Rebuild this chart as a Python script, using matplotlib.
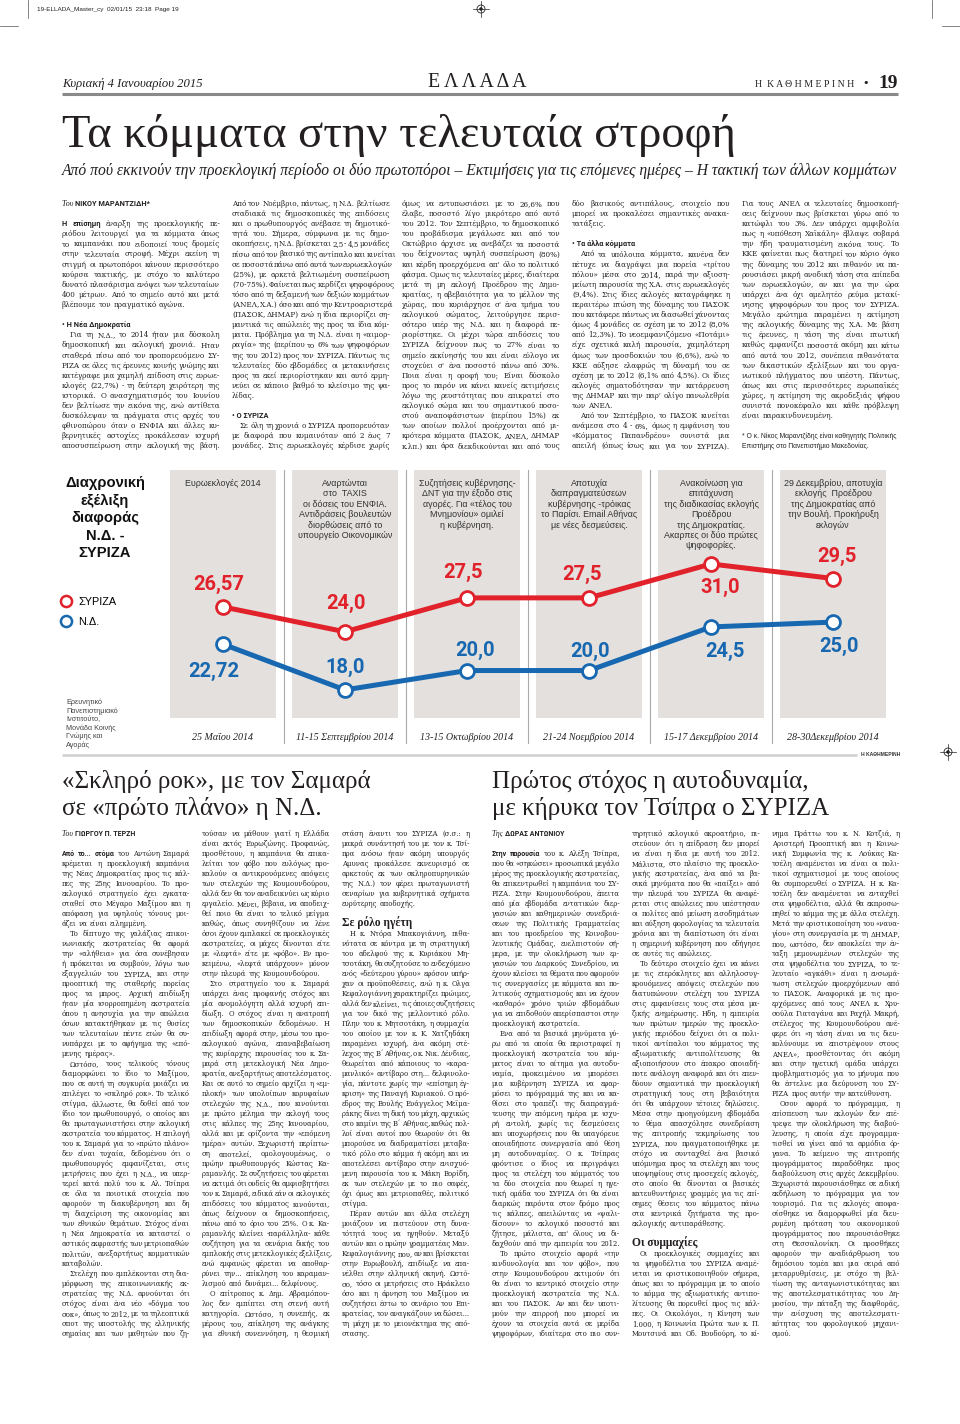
import numpy as np
import matplotlib
matplotlib.use("Agg")
import matplotlib.pyplot as plt
import matplotlib.transforms as mtrans
from matplotlib.lines import Line2D
from matplotlib.patches import Circle
from matplotlib.font_manager import FontProperties, fontManager

# ---------------- chart data ----------------
dates = ["25 Μαΐου 2014", "11-15 Σεπτεμβρίου 2014", "13-15 Οκτωβρίου 2014",
         "21-24 Νοεμβρίου 2014", "15-17 Δεκεμβρίου 2014", "28-30Δεκεμβρίου 2014"]
syriza = [26.57, 24.0, 27.5, 27.5, 31.0, 29.5]
nd = [22.72, 18.0, 20.0, 20.0, 24.5, 25.0]
events = [
    "Ευρωεκλογές 2014",
    "Αναρτώνται\nστο  TAXIS\nοι δόσεις του ΕΝΦΙΑ.\nΑντιδράσεις βουλευτών\nδιορθώσεις από το\nυπουργείο Οικονομικών",
    "Συζητήσεις κυβέρνησης-\nΔΝΤ για την έξοδο στις\nαγορές. Για «τέλος του\nΜνημονίου» ομιλεί\nη κυβέρνηση.",
    "Αποτυχία\nδιαπραγματεύσεων\nκυβέρνησης -τρόικας\nτο Παρίσι. Email Αθήνας\nμε νέες δεσμεύσεις.",
    "Ανακοίνωση για\nεπιτάχυνση\nτης διαδικασίας εκλογής\nΠροέδρου\nτης Δημοκρατίας.\nΑκαρπες οι δύο πρώτες\nψηφοφορίες.",
    "29 Δεκεμβρίου, αποτυχία\nεκλογής  Προέδρου\nτης Δημοκρατίας από\nτην Βουλή. Προκήρυξη\nεκλογών",
]
series_names = ["ΣΥΡΙΖΑ", "Ν.Δ."]
chart_title = ["Διαχρονική", "εξέλιξη", "διαφοράς", "Ν.Δ. -", "ΣΥΡΙΖΑ"]
source = "Ερευνητικό\nΠανεπιστημιακό\nΙνστιτούτο,\nΜονάδα Κοινής\nΓνώμης και\nΑγοράς"

# label offsets in pixels (dx, dy; dy down)
off_syriza = [(-4, -22), (1, -28), (-4, -25), (-7, -23), (9, 23), (4, -22)]
off_nd = [(-9, 27), (0, -22), (8, -20), (1, -19), (14, 25), (6, 24)]

# ---------------- page texts ----------------
top_cols = [
    ["@Του ΝΙΚΟΥ ΜΑΡΑΝΤΖΙΔΗ*", "",
     "**Η επίσημη** έναρξη της προεκλογικής πε-",
     "ριόδου λειτουργεί για τα κόμματα όπως",
     "το καμπανάκι που ειδοποιεί τους δρομείς",
     "στην τελευταία στροφή. Μέχρι εκείνη τη",
     "στιγμή οι πρωτοπόροι κάνουν περισσότερο",
     "κούρσα τακτικής, με στόχο το καλύτερο",
     "δυνατό πλασάρισμα ενόψει των τελευταίων",
     "400 μέτρων. Από το σημείο αυτό και μετά",
     "βλέπουμε τον πραγματικό αγώνα.", "",
     "• Η Νέα Δημοκρατία",
     ">Για τη Ν.Δ., το 2014 ήταν μια δύσκολη",
     "δημοσκοπική και εκλογική χρονιά. Ηταν",
     "σταθερά πίσω από τον προπορευόμενο ΣΥ-",
     "ΡΙΖΑ σε όλες τις έρευνες κοινής γνώμης και",
     "κατέγραφε μια χαμηλή επίδοση στις ευρωε-",
     "κλογές (22,7%) - τη δεύτερη χειρότερη της",
     "ιστορικά. Ο ανασχηματισμός του Ιουνίου",
     "δεν βελτίωσε την εικόνα της, ενώ αντίθετα",
     "δυσκόλεψαν τα πράγματα στις αρχές του",
     "φθινοπώρου όταν ο ΕΝΦΙΑ και άλλες κυ-",
     "βερνητικές αστοχίες προκάλεσαν ισχυρή",
     "αποσυσπείρωση στην εκλογική της βάση."],
    ["Από τον Νοέμβριο, πάντως, η Ν.Δ. βελτίωσε",
     "σταδιακά τις δημοσκοπικές της επιδόσεις",
     "και ο πρωθυπουργός ανέβασε τη δημοτικό-",
     "τητά του. Σήμερα, σύμφωνα με τις δημο-",
     "σκοπήσεις, η Ν.Δ. βρίσκεται 2,5 - 4,5 μονάδες",
     "πίσω από τον βασικό της αντίπαλο και κινείται",
     "σε ποσοστά πάνω από αυτά των ευρωεκλογών",
     "(25%), με αρκετά βελτιωμένη συσπείρωση",
     "(70-75%). Φαίνεται πως κερδίζει ψηφοφόρους",
     "τόσο από τη δεξαμενή των δεξιών κομμάτων",
     "(ΑΝΕΛ, Χ.Α.) όσο και από την Κεντροαριστερά",
     "(ΠΑΣΟΚ, ΔΗΜΑΡ) ενώ η ίδια περιορίζει ση-",
     "μαντικά τις απώλειές της προς τα ίδια κόμ-",
     "ματα. Πρόβλημα για τη Ν.Δ. είναι η «αιμορ-",
     "ραγία» της (περίπου το 6% των ψηφοφόρων",
     "της του 2012) προς τον ΣΥΡΙΖΑ. Πάντως τις",
     "τελευταίες δύο εβδομάδες οι μετακινήσεις",
     "προς τα εκεί περιορίστηκαν και αυτό ερμη-",
     "νεύει σε κάποιο βαθμό το κλείσιμο της ψα-",
     "λίδας.", "",
     "• Ο ΣΥΡΙΖΑ",
     ">Σε όλη τη χρονιά ο ΣΥΡΙΖΑ προπορευόταν",
     "με διαφορά που κυμαινόταν από 2 έως 7",
     "μονάδες. Στις ευρωεκλογές κέρδισε χωρίς"],
    ["όμως να εντυπωσιάσει με το 26,6% που",
     "έλαβε, ποσοστό λίγο μικρότερο από αυτό",
     "του 2012. Τον Σεπτέμβριο, το δημοσκοπικό",
     "του προβάδισμα μεγάλωσε και από τον",
     "Οκτώβριο άρχισε να ανεβάζει τα ποσοστά",
     "του δείχνοντας υψηλή συσπείρωση (80%)",
     "και κέρδη προερχόμενα απ' όλο το πολιτικό",
     "φάσμα. Ομως τις τελευταίες μέρες, ιδιαίτερα",
     "μετά τη μη εκλογή Προέδρου της Δημο-",
     "κρατίας, η αβεβαιότητα για το μέλλον της",
     "χώρας, που κυριάρχησε σ' ένα τμήμα του",
     "εκλογικού σώματος, λειτούργησε περισ-",
     "σότερο υπέρ της Ν.Δ. και η διαφορά πε-",
     "ριορίστηκε. Οι μέχρι τώρα επιδόσεις του",
     "ΣΥΡΙΖΑ δείχνουν πως το 27% είναι το",
     "σημείο εκκίνησής του και είναι εύλογο να",
     "στοχεύει σ' ένα ποσοστό πάνω από 30%.",
     "Ποια είναι η οροφή του; Είναι δύσκολο",
     "προς το παρόν να κάνει κανείς εκτιμήσεις",
     "λόγω της ρευστότητας που επικρατεί στο",
     "εκλογικό σώμα και του σημαντικού ποσο-",
     "στού αναποφάσιστων (περίπου 15%) εκ",
     "των οποίων πολλοί προέρχονται από μι-",
     "κρότερα κόμματα (ΠΑΣΟΚ, ΑΝΕΛ, ΔΗΜΑΡ",
     "κ.λπ.) και άρα διεκδικούνται και από τους"],
    ["δύο βασικούς αντιπάλους, στοιχείο που",
     "μπορεί να προκαλέσει σημαντικές ανακα-",
     "τατάξεις.", "",
     "• Τα άλλα κόμματα",
     ">Από τα υπόλοιπα κόμματα, κανένα δεν",
     "πέτυχε να διαγράψει μια πορεία «τρίτου",
     "πόλου» μέσα στο 2014, παρά την αξιοση-",
     "μείωτη παρουσία της Χ.Α. στις ευρωεκλογές",
     "(9,4%). Στις ίδιες εκλογές καταγράφηκε η",
     "περαιτέρω πτώση της δύναμης του ΠΑΣΟΚ",
     "που κατάφερε πάντως να διασωθεί χάνοντας",
     "όμως 4 μονάδες σε σχέση με το 2012 (8,0%",
     "από 12,3%). Το νεοεμφανιζόμενο «Ποτάμι»",
     "είχε σχετικά καλή παρουσία, χαμηλότερη",
     "όμως των προσδοκιών του (6,6%), ενώ το",
     "ΚΚΕ αύξησε ελαφρώς τη δύναμή του σε",
     "σχέση με το 2012 (6,1% από 4,5%). Οι ίδιες",
     "εκλογές σηματοδότησαν την κατάρρευση",
     "της ΔΗΜΑΡ και την παρ' ολίγο πανωλεθρία",
     "των ΑΝΕΛ.",
     ">Από τον Σεπτέμβριο, το ΠΑΣΟΚ κινείται",
     "ανάμεσα στο 4 - 6%, όμως η εμφάνιση του",
     "«Κόμματος Παπανδρέου» συνιστά μια",
     "απειλή (όπως ίσως και για τον ΣΥΡΙΖΑ)."],
    ["Για τους ΑΝΕΛ οι τελευταίες δημοσκοπή-",
     "σεις δείχνουν πως βρίσκεται γύρω από το",
     "κατώφλι του 3%. Δεν υπάρχει αμφιβολία",
     "πως η «υπόθεση Χαϊκάλη» έβλαψε σοβαρά",
     "την ήδη τραυματισμένη εικόνα τους. Το",
     "ΚΚΕ φαίνεται πως διατηρεί τον κύριο όγκο",
     "της δύναμης του 2012 και πιθανόν να πα-",
     "ρουσιάσει μικρή ανοδική τάση στα επίπεδα",
     "των ευρωεκλογών, αν και για την ώρα",
     "υπάρχει ένα όχι αμελητέο ρεύμα μετακί-",
     "νησης ψηφοφόρων του προς τον ΣΥΡΙΖΑ.",
     "Μεγάλο ερώτημα παραμένει η εκτίμηση",
     "της εκλογικής δύναμης της Χ.Α. Με βάση",
     "τις έρευνες, η τάση της είναι πτωτική",
     "καθώς εμφανίζει ποσοστά ακόμη και κάτω",
     "από αυτά του 2012, συνέπεια πιθανότατα",
     "των δικαστικών εξελίξεων και του οργα-",
     "νωτικού πλήγματος που υπέστη. Πάντως,",
     "όπως και στις περισσότερες ευρωπαϊκές",
     "χώρες, η εκτίμηση της ακροδεξιάς ψήφου",
     "συνιστά πονοκέφαλο και κάθε πρόβλεψη",
     "είναι παρακινδυνευμένη.", "",
     "~* Ο κ. Νίκος Μαραντζίδης είναι καθηγητής Πολιτικής",
     "~Επιστήμης στο Πανεπιστήμιο Μακεδονίας."],
]

low_cols = [
    ["@Του ΓΙΩΡΓΟΥ Π. ΤΕΡΖΗ", "",
     "**Από το... στόμα** του Αντώνη Σαμαρά",
     "κρέμεται η προεκλογική καμπάνια",
     "της Νέας Δημοκρατίας προς τις κάλ-",
     "πες της 25ης Ιανουαρίου. Το προ-",
     "εκλογικό στρατηγείο έχει εγκατα-",
     "σταθεί στο Μέγαρο Μαξίμου και η",
     "απόφαση για υψηλούς τόνους μοι-",
     "άζει να είναι ειλημμένη.",
     ">Το δίπτυχο της γαλάζιας επικοι-",
     "νωνιακής εκστρατείας θα αφορά",
     "την «αλήθεια» για όσα συνέβησαν",
     "ή πρόκειται να συμβούν, λόγω των",
     "εξαγγελιών του ΣΥΡΙΖΑ, και στην",
     "προοπτική της σταθερής πορείας",
     "προς τα μπρος. Αρχική επιδίωξη",
     "ήταν μία ισορροπημένη εκστρατεία",
     "όπου η ανησυχία για την απώλεια",
     "όσων κατακτήθηκαν με τις θυσίες",
     "των τελευταίων πέντε ετών θα συ-",
     "νυπάρχει με το αφήγημα της «επό-",
     "μενης ημέρας».",
     ">Ωστόσο, τους τελικούς τόνους",
     "διαμορφώνει το ίδιο το Μαξίμου,",
     "που σε αυτή τη συγκυρία μοιάζει να",
     "επιλέγει το «σκληρό ροκ». Το τελικό",
     "στίγμα, άλλωστε, θα δοθεί από τον",
     "ίδιο τον πρωθυπουργό, ο οποίος και",
     "θα πρωταγωνιστήσει στην εκλογική",
     "εκστρατεία του κόμματος. Η επιλογή",
     "του κ. Σαμαρά για το «πρώτο πλάνο»",
     "δεν είναι τυχαία, δεδομένου ότι ο",
     "πρωθυπουργός εμφανίζεται, στις",
     "μετρήσεις που έχει η Ν.Δ., να υπερ-",
     "τερεί κατά πολύ του κ. Αλ. Τσίπρα",
     "σε όλα τα ποιοτικά στοιχεία που",
     "αφορούν τη διακυβέρνηση και δη",
     "τη διαχείριση της οικονομίας και",
     "των εθνικών θεμάτων. Στόχος είναι",
     "η Νέα Δημοκρατία να καταστεί ο",
     "αστικός εκφραστής των μετριοπαθών",
     "πολιτών, ανεξαρτήτως κομματικών",
     "καταβολών.",
     ">Στελέχη που εμπλέκονται στη δια-",
     "μόρφωση της επικοινωνιακής εκ-",
     "στρατείας της Ν.Δ. αρνούνται ότι",
     "στόχος είναι ένα νέο «δόγμα του",
     "σοκ», όπως το 2012, με τα τηλεοπτικά",
     "σποτ της υποστολής της ελληνικής",
     "σημαίας και των μαθητών που ζη-"],
    ["τούσαν να μάθουν γιατί η Ελλάδα",
     "είναι εκτός Ευρωζώνης. Προφανώς,",
     "προσθέτουν, η καμπάνια θα επικα-",
     "λείται τον φόβο που ευλόγως προ-",
     "καλούν οι αντικρουόμενες απόψεις",
     "των στελεχών της Κουμουνδούρου,",
     "αλλά δεν θα τον αναδεικνύει ως κύριο",
     "εργαλείο. Μένει, βέβαια, να αποδειχ-",
     "θεί ποιο θα είναι το τελικό μείγμα",
     "καθώς, όπως συνηθίζουν να λένε",
     "όσοι έχουν εμπλακεί σε προεκλογικές",
     "εκστρατείες, οι μάχες δίνονται είτε",
     "με «λεφτά» είτε με «φόβο». Εν προ-",
     "κειμένω, «λεφτά υπάρχουν» μόνον",
     "στην πλευρά της Κουμουνδούρου.",
     ">Στο στρατηγείο του κ. Σαμαρά",
     "υπάρχει ένας προφανής στόχος και",
     "μία ανομολόγητη αλλά ισχυρή επι-",
     "δίωξη. Ο στόχος είναι η ανατροπή",
     "των δημοσκοπικών δεδομένων. Η",
     "επιδίωξη αφορά στην, μέσω του προ-",
     "εκλογικού αγώνα, επαναβεβαίωση",
     "της κυρίαρχης παρουσίας του κ. Σα-",
     "μαρά στη μετεκλογική Νέα Δημο-",
     "κρατία, ανεξαρτήτως αποτελέσματος.",
     "Και σε αυτό το σημείο αρχίζει η «εμ-",
     "πλοκή» των υπολοίπων κορυφαίων",
     "στελεχών της Ν.Δ., που κινούνται",
     "με πρώτο μέλημα την εκλογή τους",
     "στις κάλπες της 25ης Ιανουαρίου,",
     "αλλά και με ορίζοντα την «επόμενη",
     "ημέρα» αυτών. Ξεχωριστή περίπτω-",
     "ση αποτελεί, ομολογουμένως, ο",
     "πρώην πρωθυπουργός Κώστας Κα-",
     "ραμανλής. Σε συζητήσεις του φέρεται",
     "να εκτιμά ότι ουδείς θα αμφισβητήσει",
     "τον κ. Σαμαρά, ειδικά εάν οι εκλογικές",
     "επιδόσεις του κόμματος κινούνται,",
     "όπως δείχνουν οι δημοσκοπήσεις,",
     "πάνω από το όριο του 25%. Ο κ. Κα-",
     "ραμανλής κλείνει -παράλληλα- κάθε",
     "συζήτηση για τα σενάρια δικής του",
     "εμπλοκής στις μετεκλογικές εξελίξεις,",
     "ενώ εμφανώς φέρεται να αποθαρ-",
     "ρύνει την... επίκληση του καραμαν-",
     "λισμού από δυνάμει... δελφίνους.",
     ">Ο επίτροπος κ. Δημ. Αβραμόπου-",
     "λος δεν εμπίπτει στη στενή αυτή",
     "κατηγορία. Ωστόσο, η συνεπής, εκ",
     "μέρους του, επίκληση της ανάγκης",
     "για εθνική συνεννόηση, η θεσμική"],
    ["στάση έναντι του ΣΥΡΙΖΑ (σ.σ.: η",
     "μακρά συνάντησή του με τον κ. Τσί-",
     "πρα ενόσω ήταν ακόμη υπουργός",
     "Αμυνας προκάλεσε εκνευρισμό σε",
     "αρκετούς εκ των σκληροπυρηνικών",
     "της Ν.Δ.) τον φέρει πρωταγωνιστή",
     "σεναρίων για κυβερνητικά σχήματα",
     "ευρύτερης αποδοχής.", "",
     "#Σε ρόλο ηγέτη",
     ">Η κ. Ντόρα Μπακογιάννη, πιθα-",
     "νότατα σε κόντρα με τη στρατηγική",
     "του αδελφού της κ. Κυριάκου Μη-",
     "τσοτάκη, θα συζητούσε το ενδεχόμενο",
     "ενός «δεύτερου γύρου» εφόσον υπήρ-",
     "χαν οι προϋποθέσεις, ενώ η κ. Ολγα",
     "Κεφαλογιάννη χαρακτηρίζει πρώιμες,",
     "αλλά δεν κλείνει, τις όποιες συζητήσεις",
     "για τον δικό της μελλοντικό ρόλο.",
     "Πλην του κ. Μητσοτάκη, η συμμαχία",
     "του οποίου με τον κ. Κ. Χατζηδάκη",
     "παραμένει ισχυρή, ένα ακόμη στέ-",
     "λεχος της Β΄ Αθήνας, ο κ. Νικ. Δένδιας,",
     "θεωρείται από κάποιους το «καρα-",
     "μανλικό» αντίβαρο στη... δελφινολο-",
     "γία, πάντοτε χωρίς την «επίσημη έγ-",
     "κριση» της Παναγή Κυριακού. Ο πρό-",
     "εδρος της Βουλής Ευάγγελος Μεϊμα-",
     "ράκης δίνει τη δική του μάχη, αρχικώς",
     "στο καμίνι της Β΄ Αθήνας, καθώς πολ-",
     "λοί είναι αυτοί που θεωρούν ότι θα",
     "μπορούσε να διαδραματίσει μεταβα-",
     "τικό ρόλο στο κόμμα ή ακόμη και να",
     "αποτελέσει αντίβαρο στην ενισχυό-",
     "μενη παρουσία του κ. Μάκη Βορίδη,",
     "εκ των στελεχών με το πιο σαφές,",
     "όχι όμως και μετριοπαθές, πολιτικό",
     "στίγμα.",
     ">Πέραν αυτών και άλλα στελέχη",
     "μοιάζουν να πιστεύουν στη δυνα-",
     "τότητά τους να ηγηθούν. Μεταξύ",
     "αυτών και ο πρώην γραμματέας Μαν.",
     "Κεφαλογιάννης που, αν και βρίσκεται",
     "στην Ευρωβουλή, επιδίωξε να επα-",
     "νέλθει στην ελληνική σκηνή. Ωστό-",
     "σο, τόσο οι μετρήσεις στο Ηράκλειο",
     "όσο και η άρνηση του Μαξίμου να",
     "συζητήσει έστω το σενάριο του Επι-",
     "κρατείας, τον αναγκάζουν να δώσει...",
     "τη μάχη με το μειονέκτημα της από-",
     "στασης."],
    ["@Της ΔΩΡΑΣ ΑΝΤΩΝΙΟΥ", "",
     "**Στην παρουσία** του κ. Αλέξη Τσίπρα,",
     "που θα «σηκώσει» προσωπικά μεγάλο",
     "μέρος της προεκλογικής εκστρατείας,",
     "θα επικεντρωθεί η καμπάνια του ΣΥ-",
     "ΡΙΖΑ. Στην Κουμουνδούρου, έπειτα",
     "από μία εβδομάδα εντατικών διερ-",
     "γασιών και καθημερινών συνεδριά-",
     "σεων της Πολιτικής Γραμματείας",
     "και του προεδρείου της Κοινοβου-",
     "λευτικής Ομάδας, ευελπιστούν σή-",
     "μερα, με την ολοκλήρωση των ερ-",
     "γασιών του Διαρκούς Συνεδρίου, να",
     "έχουν κλείσει τα θέματα που αφορούν",
     "τις συνεργασίες με κόμματα και πο-",
     "λιτικούς σχηματισμούς και να έχουν",
     "«καθαρό» χρόνο τριών εβδομάδων",
     "για να επιδοθούν απερίσπαστοι στην",
     "προεκλογική εκστρατεία.",
     ">Ενα από τα βασικά μηνύματα γύ-",
     "ρω από τα οποία θα περιστραφεί η",
     "προεκλογική εκστρατεία του κόμ-",
     "ματος είναι το αίτημα για αυτοδυ-",
     "ναμία, προκειμένου να μπορέσει",
     "μια κυβέρνηση ΣΥΡΙΖΑ να εφαρ-",
     "μόσει το πρόγραμμά της και να κα-",
     "θίσει στο τραπέζι της διαπραγμά-",
     "τευσης την επόμενη ημέρα με ισχυ-",
     "ρή εντολή, χωρίς τις δεσμεύσεις",
     "και υποχωρήσεις που θα υπαγόρευε",
     "οποιαδήποτε συνεργασία από θέση",
     "μη αυτοδυναμίας. Ο κ. Τσίπρας",
     "φρόντισε ο ίδιος να περιγράψει",
     "προς τα στελέχη του κόμματός του",
     "τα δύο στοιχεία που θεωρεί η ηγε-",
     "τική ομάδα του ΣΥΡΙΖΑ ότι θα είναι",
     "διαρκώς παρόντα στον δρόμο προς",
     "τις κάλπες, απειλώντας να «ψαλι-",
     "δίσουν» το εκλογικό ποσοστό και",
     "ζήτησε, μάλιστα, απ' όλους να δι-",
     "δαχθούν από την εμπειρία του 2012.",
     ">Το πρώτο στοιχείο αφορά «την",
     "κινδυνολογία και τον φόβο», που",
     "στην Κουμουνδούρου εκτιμούν ότι",
     "θα είναι το κεντρικό στοιχείο στην",
     "προεκλογική εκστρατεία της Ν.Δ.",
     "και του ΠΑΣΟΚ. Αν και δεν υποτι-",
     "μούν την επιρροή που μπορεί να",
     "έχουν τα στοιχεία αυτά σε μερίδα",
     "ψηφοφόρων, ιδιαίτερα στο πιο συν-"],
    ["τηρητικό εκλογικό ακροατήριο, πι-",
     "στεύουν ότι η επίδραση δεν μπορεί",
     "να είναι η ίδια με αυτή του 2012.",
     "Μάλιστα, στο πλαίσιο της προεκλο-",
     "γικής εκστρατείας, ένα από τα βα-",
     "σικά μηνύματα που θα «παίξει» από",
     "την πλευρά του ΣΥΡΙΖΑ θα αναφέ-",
     "ρεται στις απώλειες που υπέστησαν",
     "οι πολίτες από μείωση εισοδημάτων",
     "και αύξηση φορολογίας τα τελευταία",
     "χρόνια και τη διαπίστωση ότι είναι",
     "η σημερινή κυβέρνηση που οδήγησε",
     "σε αυτές τις απώλειες.",
     ">Το δεύτερο στοιχείο έχει να κάνει",
     "με τις ετερόκλητες και αλληλοσυγ-",
     "κρουόμενες απόψεις στελεχών που",
     "διατυπώνουν στελέχη του ΣΥΡΙΖΑ",
     "στις εμφανίσεις τους στα μέσα μα-",
     "ζικής ενημέρωσης. Ηδη, η εμπειρία",
     "των πρώτων ημερών της προεκλο-",
     "γικής περιόδου δείχνει ότι οι πολι-",
     "τικοί αντίπαλοι του κόμματος της",
     "αξιωματικής αντιπολίτευσης θα",
     "αξιοποιήσουν στο έπακρο οποιαδή-",
     "ποτε ανάλογη αναφορά και ότι επεν-",
     "δύουν σημαντικά την προεκλογική",
     "στρατηγική τους στη βεβαιότητα",
     "ότι θα υπάρχουν τέτοιες δηλώσεις.",
     "Μέσα στην προηγούμενη εβδομάδα",
     "το θέμα απασχόλησε συνεδρίαση",
     "της επιτροπής τεκμηρίωσης του",
     "ΣΥΡΙΖΑ, που πραγματοποιήθηκε με",
     "στόχο να συνταχθεί ένα βασικό",
     "υπόμνημα προς τα στελέχη και τους",
     "υποψηφίους στις προσεχείς εκλογές,",
     "στο οποίο θα δίνονται οι βασικές",
     "κατευθυντήριες γραμμές για τις επί-",
     "σημες θέσεις του κόμματος πάνω",
     "στα κεντρικά ζητήματα της προ-",
     "εκλογικής αντιπαράθεσης.", "",
     "#Οι συμμαχίες",
     ">Οι προεκλογικές συμμαχίες και",
     "τα ψηφοδέλτια του ΣΥΡΙΖΑ αναμέ-",
     "νεται να οριστικοποιηθούν σήμερα,",
     "όπως και το πρόγραμμα με το οποίο",
     "το κόμμα της αξιωματικής αντιπο-",
     "λίτευσης θα πορευθεί προς τις κάλ-",
     "πες. Οι Οικολόγοι, η Κίνηση των",
     "1.000, η Κοινωνία Πρώτα των κ. Π.",
     "Μουτσινά και Οδ. Βουδούρη, το κί-"],
    ["νημα Πράττω του κ. Ν. Κοτζιά, η",
     "Αριστερή Προοπτική και η Κοινω-",
     "νική Συμφωνία της κ. Λούκας Κα-",
     "τσέλη αναμένεται να είναι οι πολι-",
     "τικοί σχηματισμοί με τους οποίους",
     "θα συμπορευθεί ο ΣΥΡΙΖΑ. Η κ. Κα-",
     "τσέλη δεν αναμένεται να ενταχθεί",
     "στα ψηφοδέλτια, αλλά θα εκπροσω-",
     "πηθεί το κόμμα της με άλλα στελέχη.",
     "Μετά την οριστικοποίηση του «ναυα-",
     "γίου» στη συνεργασία με τη ΔΗΜΑΡ,",
     "που, ωστόσο, δεν αποκλείει την έν-",
     "ταξη μεμονωμένων στελεχών της",
     "στα ψηφοδέλτια του ΣΥΡΙΖΑ, το τε-",
     "λευταίο «αγκάθι» είναι η ενσωμά-",
     "τωση στελεχών προερχόμενων από",
     "το ΠΑΣΟΚ. Αναφορικά με τις προ-",
     "ερχόμενες από τους ΑΝΕΛ κ. Χρυ-",
     "σούλα Γιαταγάνα και Ραχήλ Μακρή,",
     "στέλεχος της Κουμουνδούρου ανέ-",
     "φερε ότι «η τάση είναι να τις διευ-",
     "κολύνουμε να επιστρέψουν στους",
     "ΑΝΕΛ», προσθέτοντας ότι ακόμη",
     "και στην ηγετική ομάδα υπάρχει",
     "προβληματισμός για το μήνυμα που",
     "θα έστελνε μια διεύρυνση του ΣΥ-",
     "ΡΙΖΑ προς αυτήν την κατεύθυνση.",
     ">Οσον αφορά το πρόγραμμα, η",
     "επίσπευση των εκλογών δεν επέ-",
     "τρεψε την ολοκλήρωση της διαβού-",
     "λευσης, η οποία είχε προγραμμα-",
     "τισθεί να γίνει από τα αρμόδια όρ-",
     "γανα. Το κείμενο της επιτροπής",
     "προγράμματος παραδόθηκε προς",
     "διαβούλευση στις αρχές Δεκεμβρίου.",
     "Ξεχωριστά παρουσιάσθηκε σε ειδική",
     "εκδήλωση το πρόγραμμα για τον",
     "τουρισμό. Για τις εκλογές αποφα-",
     "σίσθηκε να διαμορφωθεί μία διευ-",
     "ρυμένη πρόταση του οικονομικού",
     "προγράμματος που παρουσιάσθηκε",
     "στη Θεσσαλονίκη. Οι προσθήκες",
     "αφορούν την αναδιάρθρωση του",
     "δημόσιου τομέα και μια σειρά από",
     "μεταρρυθμίσεις, με στόχο τη βελ-",
     "τίωση της ανταγωνιστικότητας και",
     "της αποτελεσματικότητας του Δη-",
     "μοσίου, την πάταξη της διαφθοράς,",
     "την ενίσχυση της αποτελεσματι-",
     "κότητας του φορολογικού μηχανι-",
     "σμού."],
]

# ---------------- setup ----------------
W, H = 960, 1424
INK = "#231f20"
RED = "#e2222b"
BLUE = "#1768b1"
PANEL = "#e3e0de"
names = {f.name for f in fontManager.ttflist}
cond = [f for f in fontManager.ttflist if f.name == "DejaVu Serif" and f.stretch == "condensed"
        and f.weight in (400, "normal") and f.style == "normal"]
BODY = dict(family="DejaVu Serif", stretch="condensed") if cond else dict(family="Liberation Serif")
SERIF = "Liberation Serif"
SANS = "Roboto"
NARROW = "Liberation Sans Narrow" if "Liberation Sans Narrow" in names else "Liberation Sans"

fig = plt.figure(figsize=(W / 100, H / 100), dpi=100)
page = fig.add_axes([0, 0, 1, 1])
page.set_xlim(0, W)
page.set_ylim(H, 0)
page.axis("off")
rend = fig.canvas.get_renderer()


def width(s, fp):
    return rend.get_text_width_height_descent(s, fp, ismath=False)[0]


def fit(text, target, **kw):
    fp = FontProperties(size=20, **kw)
    return 20 * target / width(text, fp)


def parse(line, size):
    body = FontProperties(size=size, **BODY)
    bold = FontProperties(family=SANS, weight="bold", size=size * 0.92)
    if line.startswith("•"):
        return "head", [(line, bold)], 0
    if line.startswith("#"):
        return "head", [(line[1:], FontProperties(family=SERIF, weight="bold", size=size * 1.5))], 0
    if line.startswith("~"):
        return "head", [(line[1:], FontProperties(family=NARROW, size=size * 0.85))], 0
    if line.startswith("@"):
        first, rest = line[1:].split(" ", 1)
        return "head", [(first + " ", FontProperties(family=SERIF, style="italic", size=size)),
                        (rest, bold)], 0
    ind = 0
    if line.startswith(">"):
        line, ind = line[1:], 1
    toks = []
    if line.startswith("**"):
        lead, line = line[2:].split("**", 1)
        toks += [(w, bold) for w in lead.split()]
    toks += [(w, body) for w in line.split()]
    return "text", toks, ind


def best_size(cols, colw, s0=7.0, smax=7.6):
    body = FontProperties(size=s0, **BODY)
    sp = width("a a", body) - width("aa", body)
    ratios = []
    for lines in cols:
        for i, line in enumerate(lines):
            if not line or line[0] in "@#~•":
                continue
            kind, toks, ind = parse(line, s0)
            ws = [width(s, fp) for s, fp in toks]
            need = sum(ws) + 0.6 * sp * (len(ws) - 1)
            ratios.append(need / (colw - ind * 8))
    return min(smax, s0 / np.percentile(ratios, 93))


def column(lines, x, y0, w, lh, size):
    body = FontProperties(size=size, **BODY)
    sp = width("a a", body) - width("aa", body)
    for i, line in enumerate(lines):
        if not line:
            continue
        y = y0 + i * lh
        kind, toks, ind = parse(line, size)
        if kind == "head":
            xx = x
            for s, fp in toks:
                page.text(xx, y, s, fontproperties=fp, va="baseline", ha="left", color=INK)
                xx += width(s, fp)
            continue
        x1 = x + ind * 8
        avail = w - ind * 8
        ws = [width(s, fp) for s, fp in toks]
        nxt = lines[i + 1] if i + 1 < len(lines) else "X"
        end_par = (not nxt) or nxt[0] in ">#•~"
        natural = sum(ws) + sp * (len(ws) - 1)
        if len(ws) > 1 and not end_par and natural > 0.75 * avail:
            gap = max((avail - sum(ws)) / (len(ws) - 1), 0.3 * sp)
        else:
            gap = sp
        xx = x1
        for (s, fp), wd in zip(toks, ws):
            page.text(xx, y, s, fontproperties=fp, va="baseline", ha="left", color=INK)
            xx += wd + gap


# ---------------- print marks ----------------
page.text(37, 9, "19-ELLADA_Master_cy  02/01/15  23:18  Page 19", fontsize=4.6,
          family="Liberation Sans", va="center", color="#222")
for xv in (28, 932):
    page.plot([xv, xv], [0, 18], color="#555", lw=0.5)
page.plot([0, 18], [26, 26], color="#555", lw=0.5)
page.plot([942, 960], [26, 26], color="#555", lw=0.5)
for (mx, my) in [(481, 9), (948, 752)]:
    page.add_patch(Circle((mx, my), 4, fill=False, lw=0.6, ec="#222"))
    page.add_patch(Circle((mx, my), 1.8, color="#222", lw=0))
    page.plot([mx - 8, mx + 8], [my, my], color="#222", lw=0.5)
    page.plot([mx, mx], [my - 8, my + 8], color="#222", lw=0.5)

# ---------------- header ----------------
page.text(62, 87, "Κυριακή 4 Ιανουαρίου 2015", va="baseline", color=INK,
          fontproperties=FontProperties(family=SERIF, style="italic",
                                        size=fit("Κυριακή 4 Ιανουαρίου 2015", 141, family=SERIF, style="italic")))
page.text(477, 87, "Ε Λ Λ Α Δ Α", ha="center", va="baseline", color=INK,
          fontproperties=FontProperties(family=SERIF, size=fit("Ε Λ Λ Α Δ Α", 99, family=SERIF)))
page.text(854, 87, "Η  Κ Α Θ Η Μ Ε Ρ Ι Ν Η", ha="right", va="baseline", color=INK,
          fontproperties=FontProperties(family=SERIF, size=fit("Η  Κ Α Θ Η Μ Ε Ρ Ι Ν Η", 98, family=SERIF)))
page.text(866, 83, "•", ha="center", va="center", color=INK, fontsize=8)
page.text(898, 88, "19", ha="right", va="baseline", color=INK, fontsize=14, fontweight="bold", family=SERIF)
page.plot([62, 898], [93.5, 93.5], color="#8a8a8a", lw=2.2, solid_capstyle="butt")

title = "Τα κόμματα στην τελευταία στροφή"
page.text(62, 147, title, va="baseline", color=INK,
          fontproperties=FontProperties(family=SERIF, size=fit(title, 673, family=SERIF)))
subtitle = ("Από πού εκκινούν την προεκλογική περίοδο οι δύο πρωτοπόροι – "
            "Εκτιμήσεις για τις επόμενες ημέρες – Η τακτική των άλλων κομμάτων")
page.text(62, 175, subtitle, va="baseline", color=INK,
          fontproperties=FontProperties(family=SERIF, style="italic",
                                        size=fit(subtitle, 836, family=SERIF, style="italic")))

# ---------------- top article ----------------
top_x = [62, 232, 402, 572, 742]
ts = best_size(top_cols, 158)
for lines, x0 in zip(top_cols, top_x):
    column(lines, x0, 206, 158, 10.1, ts)

# ---------------- chart ----------------
cx0, cx1, cy0, cy1 = 170, 886, 470, 718
ax = fig.add_axes([cx0 / W, 1 - cy1 / H, (cx1 - cx0) / W, (cy1 - cy0) / H])
half = 0.434
n = len(dates)
xs = np.arange(n)
ax.set_xlim(-half, n - 1 + half)
ax.set_ylim(15.1, 40.7)
ax.axis("off")
bt = mtrans.blended_transform_factory(ax.transData, ax.transAxes)
for i in xs:
    ax.axvspan(i - half, i + half, color=PANEL, lw=0, zorder=0)
    ax.text(i, (cy1 - 479) / (cy1 - cy0), events[i], transform=bt, ha="center", va="top",
            fontsize=6.4, family=NARROW, color="#333", linespacing=1.2)
    ax.text(i, -(737 - cy1) / (cy1 - cy0), dates[i], transform=bt, ha="center", va="center",
            fontsize=7.2, family=SERIF, style="italic", color=INK, clip_on=False)
for i in xs[:-1]:
    ax.plot([i + 0.5, i + 0.5], [1.0, -0.1], transform=bt, color="#a9a9a9", lw=0.8,
            clip_on=False)

for vals, col, offs in [(syriza, RED, off_syriza), (nd, BLUE, off_nd)]:
    ax.plot(xs, vals, color=col, lw=3.6, marker="o", ms=10, mfc="white", mec=col,
            mew=2.0, zorder=3, solid_joinstyle="round")
    for i, v in enumerate(vals):
        lab = (f"{v:.2f}" if round(v, 1) != v else f"{v:.1f}").replace(".", ",")
        dx, dy = offs[i]
        ax.annotate(lab, (i, v), xytext=(dx * 0.72, -dy * 0.72), textcoords="offset points",
                    ha="center", va="center", fontsize=14.5, fontweight="bold",
                    family=SANS, color=col, zorder=4)

tsz = fit(chart_title[0], 80, family="Liberation Sans", weight="bold")
for j, s in enumerate(chart_title):
    page.text(105, 483 + j * 17.6, s, ha="center", va="center", fontsize=tsz,
              fontweight="bold", family="Liberation Sans", color="#111")
handles = [Line2D([], [], ls="none", marker="o", ms=8, mfc="white", mec=c, mew=1.8)
           for c in (RED, BLUE)]
fig.legend(handles, series_names, loc="upper left", bbox_to_anchor=(61 / W, 1 - 597 / H),
           frameon=False, handlelength=1.0, handletextpad=0.6,
           labelspacing=0.95, borderpad=0, borderaxespad=0,
           prop={"family": "Liberation Sans", "size": 7.8})
page.text(66, 699, source, va="top", ha="left", fontsize=5.2, family=NARROW,
          color="#444", linespacing=1.2)
page.plot([62, 857], [755, 755], color="#cfcfcf", lw=1.8, solid_capstyle="butt")
page.text(900, 755, "Η ΚΑΘΗΜΕΡΙΝΗ", ha="right", va="center", fontsize=3.6,
          fontweight="bold", family="Liberation Sans", color="#333")

# ---------------- lower articles ----------------
h1 = ["«Σκληρό ροκ», με τον Σαμαρά", "σε «πρώτο πλάνο» η Ν.Δ."]
h2 = ["Πρώτος στόχος η αυτοδυναμία,", "με κήρυκα τον Τσίπρα ο ΣΥΡΙΖΑ"]
hs = fit(h2[0], 316, family=SERIF)
for j in range(2):
    page.text(62, 788 + j * 27, h1[j], va="baseline", fontsize=hs, family=SERIF, color=INK)
    page.text(492, 788 + j * 27, h2[j], va="baseline", fontsize=hs, family=SERIF, color=INK)

low_x = [62, 202, 342, 492, 632, 772]
ls_ = best_size(low_cols, 128)
for lines, x0 in zip(low_cols, low_x):
    column(lines, x0, 836, 128, 10.0, ls_)

fig.savefig("out.png", dpi=100, facecolor="white")
